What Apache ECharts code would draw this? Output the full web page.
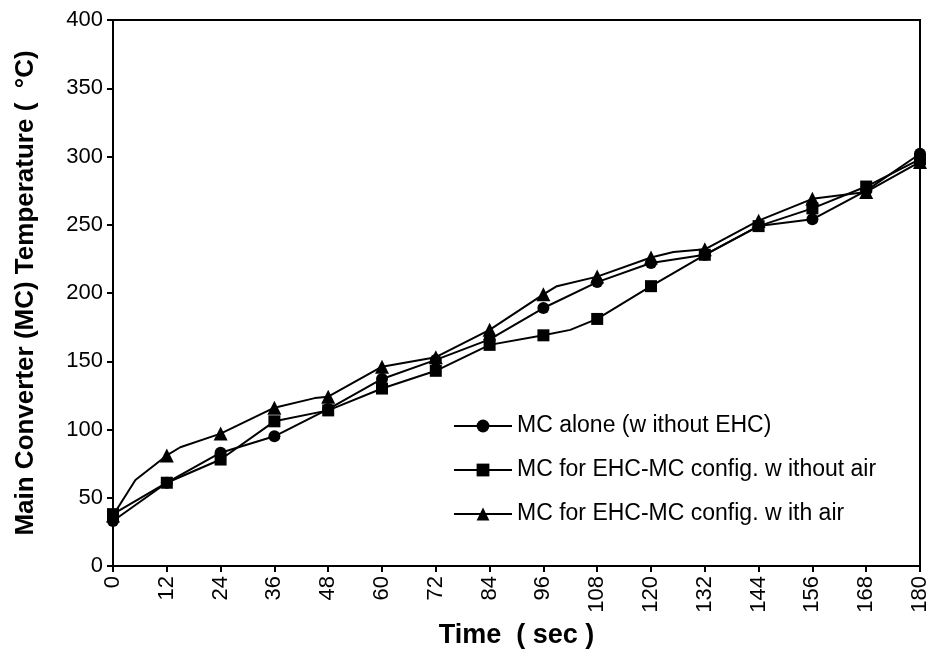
<!DOCTYPE html>
<html>
<head>
<meta charset="utf-8">
<script src="https://cdn.jsdelivr.net/npm/echarts@6/dist/echarts.min.js"></script>
<style>
html,body{margin:0;padding:0;background:#fff;}
#chart{width:931px;height:662px;}
</style>
</head>
<body>
<div id="chart"></div>
<script>
// Time (sec) of the marked points
const times = [0, 12, 24, 36, 48, 60, 72, 84, 96, 108, 120, 132, 144, 156, 168, 180];
const xTickLabels = ['0','12','24','36','48','60','72','84','96','108','120','132','144','156','168','180'];
const yTickLabels = [0, 50, 100, 150, 200, 250, 300, 350, 400];

// Series names
const seriesNames = [
  'MC alone (w ithout EHC)',
  'MC for EHC-MC config. w ithout air',
  'MC for EHC-MC config. w ith air'
];

// Temperatures (°C) at the marked times
const mcAlone = [33, 61, 83, 95, 115, 137, 151, 166, 189, 208, 222, 228, 249, 254, 275, 302];
const mcNoAir = [38, 61, 78, 106, 114, 130, 143, 162, 169, 181, 205, 228, 249, 262, 278, 298];
const mcAir   = [37, 81, 97, 116, 124, 146, 153, 173, 199, 212, 226, 232, 253, 269, 274, 296];

// Unmarked bend points visible along the curves [time, temperature]
const mcAloneBends = [];
const mcNoAirBends = [[102, 173]];
const mcAirBends   = [[5, 63], [15, 87], [45, 123], [99, 205], [125, 230]];

function build(vals, bends) {
  const pts = times.map((t, i) => ({ value: [t, vals[i]] }));
  bends.forEach(b => pts.push({ value: [b[0], b[1]], symbol: 'none' }));
  pts.sort((a, b) => a.value[0] - b.value[0]);
  return pts;
}

const chart = echarts.init(document.getElementById('chart'), null, { renderer: 'canvas' });
const FONT = '"Liberation Sans", Arial, sans-serif';

const lineStyle = { color: '#000', width: 2 };
const option = {
  backgroundColor: '#fff',
  animation: false,
  textStyle: { fontFamily: FONT, color: '#000' },
  grid: {
    left: 113, right: 9, top: 20, bottom: 96,
    show: true, borderColor: '#000', borderWidth: 2, backgroundColor: 'transparent'
  },
  legend: {
    orient: 'vertical',
    left: 448, top: 409,
    itemWidth: 58, itemHeight: 16, itemGap: 20,
    textStyle: { fontFamily: FONT, fontSize: 23, lineHeight: 24, color: '#000' },
    data: seriesNames
  },
  xAxis: {
    type: 'value',
    min: 0, max: 180, interval: 12,
    name: 'Time  ( sec )',
    nameLocation: 'middle',
    nameGap: 56,
    nameTextStyle: { fontFamily: FONT, fontSize: 27, fontWeight: 'bold', color: '#000', verticalAlign: 'top' },
    axisLine: { lineStyle: { color: '#000', width: 2 } },
    axisTick: { show: true, length: 6, lineStyle: { color: '#000', width: 2 } },
    axisLabel: {
      rotate: 90, fontFamily: FONT, fontSize: 22, color: '#000', margin: 10,
      formatter: v => { const i = times.indexOf(v); return i >= 0 ? xTickLabels[i] : ''; }
    },
    splitLine: { show: false }
  },
  yAxis: {
    type: 'value',
    min: yTickLabels[0], max: yTickLabels[yTickLabels.length - 1], interval: 50,
    name: 'Main Converter (MC) Temperature (  °C)',
    nameLocation: 'middle',
    nameGap: 74,
    nameTextStyle: { fontFamily: FONT, fontSize: 26, fontWeight: 'bold', color: '#000' },
    axisLine: { show: true, lineStyle: { color: '#000', width: 2 } },
    axisTick: { show: true, length: 6, lineStyle: { color: '#000', width: 2 } },
    axisLabel: { fontFamily: FONT, fontSize: 22, color: '#000', margin: 10 },
    splitLine: { show: false }
  },
  series: [
    {
      name: seriesNames[0], type: 'line', data: build(mcAlone, mcAloneBends),
      symbol: 'circle', symbolSize: 12, showAllSymbol: true,
      lineStyle: lineStyle, itemStyle: { color: '#000' }, z: 4
    },
    {
      name: seriesNames[1], type: 'line', data: build(mcNoAir, mcNoAirBends),
      symbol: 'rect', symbolSize: 12, showAllSymbol: true,
      lineStyle: lineStyle, itemStyle: { color: '#000' }, z: 3
    },
    {
      name: seriesNames[2], type: 'line', data: build(mcAir, mcAirBends),
      symbol: 'triangle', symbolSize: 14, showAllSymbol: true,
      lineStyle: lineStyle, itemStyle: { color: '#000' }, z: 2
    }
  ]
};
chart.setOption(option);
</script>
</body>
</html>
